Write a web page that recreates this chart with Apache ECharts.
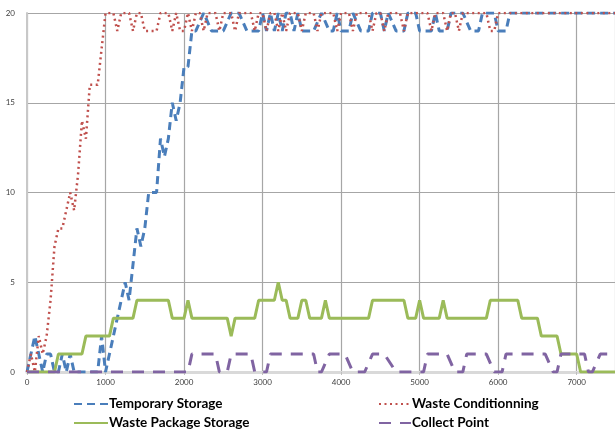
<!DOCTYPE html>
<html lang="en">
<head>
    <meta charset="UTF-8">
    <title>Storage levels</title>
    <script src="https://cdn.jsdelivr.net/npm/echarts@6/dist/echarts.min.js"></script>
</head>
<style>
    html, body { margin: 0; padding: 0; background: #fff; }
    #chart { width: 615px; height: 433px; }
</style>
<body>
<div id="chart"></div>
<script>
    // [time, count] pairs (only where the line changes)
    var temporaryStorage = [
        [0,0],[50,1],[100,2],[150,1],[200,0],[250,1],[300,1],[350,0],[400,0],[450,1],[500,0],[550,1],[600,0],
        [900,0],[950,2],[1000,0],[1050,1],[1100,2],[1150,3],[1200,4],[1250,5],[1300,4],[1350,6],[1400,8],
        [1450,7],[1500,8],[1550,10],[1650,10],[1700,13],[1750,12],[1800,13],[1850,15],[1900,14],[1950,15],
        [2000,17],[2050,17],[2100,19],[2150,19],[2250,20],[2350,19],[2500,19],[2600,20],[2700,20],[2800,19],
        [2950,19],[3000,20],[3050,19],[3100,20],[3150,19],[3200,20],[3250,19],[3300,20],[3350,20],[3400,19],
        [3450,20],[3500,19],[3650,19],[3750,20],[3850,19],[3900,19],[3950,20],[4000,19],[4100,19],[4150,20],
        [4250,19],[4350,19],[4400,20],[4500,20],[4550,19],[4600,20],[4700,19],[4800,19],[4850,20],[4950,20],
        [5000,19],[5150,19],[5200,20],[5250,19],[5350,19],[5400,20],[5550,20],[5650,19],[5750,19],[5800,20],
        [5950,20],[6000,19],[6100,19],[6150,20],[7500,20]
    ];
    var wasteConditionning = [
        [0,0],[50,1],[100,0],[150,2],[200,1],[250,2],[300,4],[350,7],[400,8],[450,8],[500,9],[550,10],
        [600,9],[650,11],[700,14],[750,13],[800,16],[850,16],[900,16],[950,18],[1000,20],[1100,20],[1150,19],
        [1200,20],[1300,20],[1350,19],[1400,20],[1450,20],[1500,19],[1650,19],[1700,20],[1800,20],[1850,19],
        [1900,20],[1950,19],[2000,19],[2050,20],[2100,19],[2150,20],[2200,20],[2250,19],[2300,20],[2400,20],
        [2450,19],[2500,20],[2600,20],[2650,19],[2700,20],[2850,20],[2900,19],[2950,20],[3000,20],[3050,19],
        [3100,20],[3150,20],[3200,19],[3250,20],[3300,19],[3350,20],[3450,20],[3500,19],[3550,20],[3650,20],
        [3700,19],[3750,20],[3900,20],[3950,19],[4000,20],[4100,20],[4150,19],[4200,20],[4350,20],[4400,19],
        [4450,20],[4500,20],[4550,19],[4600,20],[4750,20],[4800,19],[4850,20],[5100,20],[5150,19],[5200,20],
        [5300,20],[5350,19],[5400,20],[5450,20],[5500,19],[5550,20],[5850,20],[5900,19],[5950,19],[6000,20],
        [7500,20]
    ];
    var wastePackageStorage = [
        [0,0],[350,0],[400,1],[700,1],[750,2],[1050,2],[1100,3],[1350,3],[1400,4],[1800,4],[1850,3],[2000,3],
        [2050,4],[2100,3],[2550,3],[2600,2],[2650,3],[2900,3],[2950,4],[3150,4],[3200,5],[3250,4],[3300,4],
        [3350,3],[3450,3],[3500,4],[3550,4],[3600,3],[3750,3],[3800,4],[3850,3],[4350,3],[4400,4],[4800,4],
        [4850,3],[4950,3],[5000,4],[5050,3],[5250,3],[5300,4],[5350,3],[5850,3],[5900,4],[6250,4],[6300,3],
        [6500,3],[6550,2],[6750,2],[6800,1],[7000,1],[7050,0],[7500,0]
    ];
    var collectPoint = [
        [0,0],[2050,0],[2100,1],[2400,1],[2450,0],[2550,0],[2600,1],[2850,1],[2900,0],[3050,0],[3100,1],
        [3650,1],[3700,0],[3750,0],[3850,1],[4050,1],[4150,0],[4300,0],[4400,1],[4550,1],[4700,0],[5050,0],
        [5100,1],[5350,1],[5450,0],[5550,0],[5600,1],[5850,1],[5950,0],[6050,0],[6100,1],[6600,1],[6700,0],
        [6750,0],[6800,1],[7100,1],[7150,0],[7200,0],[7300,1],[7500,1]
    ];
    var seriesNames = ['Temporary Storage', 'Waste Conditionning', 'Waste Package Storage', 'Collect Point'];

    var legendText = {
        fontFamily: 'Lato',
        fontWeight: 'bold',
        fontSize: 13.5,
        color: '#000',
        lineHeight: 14,
        padding: [0, 0, 0, -4]
    };
    var tickFont = { fontFamily: 'Lato', fontSize: 8, color: '#404040' };

    function line(name, data, color, width, dash) {
        return {
            name: name,
            type: 'line',
            data: data,
            symbol: 'none',
            clip: true,
            lineStyle: { color: color, width: width, type: dash, cap: 'butt' },
            itemStyle: { color: color }
        };
    }

    var legendBase = {
        orient: 'vertical',
        top: 397,
        itemHeight: 14, itemGap: 5,
        padding: 0,
        itemStyle: { opacity: 0 },
        textStyle: legendText
    };

    var chart = echarts.init(document.getElementById('chart'));
    chart.setOption({
        animation: false,
        backgroundColor: '#fff',
        grid: { left: 27, top: 13, bottom: 61, right: 0 },
        legend: [
            Object.assign({ data: [seriesNames[0], seriesNames[2]], left: 73, itemWidth: 34 }, legendBase),
            Object.assign({ data: [seriesNames[1], seriesNames[3]], left: 378, itemWidth: 32 }, legendBase)
        ],
        xAxis: {
            type: 'value',
            min: 0, max: 7488, interval: 1000,
            axisLine: { show: true, lineStyle: { color: '#d9d9d9', width: 3 } },
            axisTick: { show: true, length: 3, lineStyle: { color: '#bfbfbf' } },
            axisLabel: Object.assign({
                margin: 6,
                showMaxLabel: false,
                formatter: function (v) { return String(v); }
            }, tickFont),
            splitLine: { show: true, lineStyle: { color: '#a6a6a6', width: 1.2 } }
        },
        yAxis: {
            type: 'value',
            min: 0, max: 20, interval: 5,
            axisLine: { show: true, lineStyle: { color: '#c8c8c8', width: 2 } },
            axisTick: { show: false },
            axisLabel: Object.assign({ margin: 12 }, tickFont),
            splitLine: { show: true, lineStyle: { color: '#a6a6a6', width: 1.2 } }
        },
        series: [
            line(seriesNames[0], temporaryStorage, '#4a7ebb', 3, [8, 5]),
            line(seriesNames[1], wasteConditionning, '#c0504d', 2.5, [2, 3.5]),
            line(seriesNames[2], wastePackageStorage, '#9bbb59', 3, 'solid'),
            line(seriesNames[3], collectPoint, '#8064a2', 3, [12, 9])
        ]
    });
</script>
</body>
</html>
